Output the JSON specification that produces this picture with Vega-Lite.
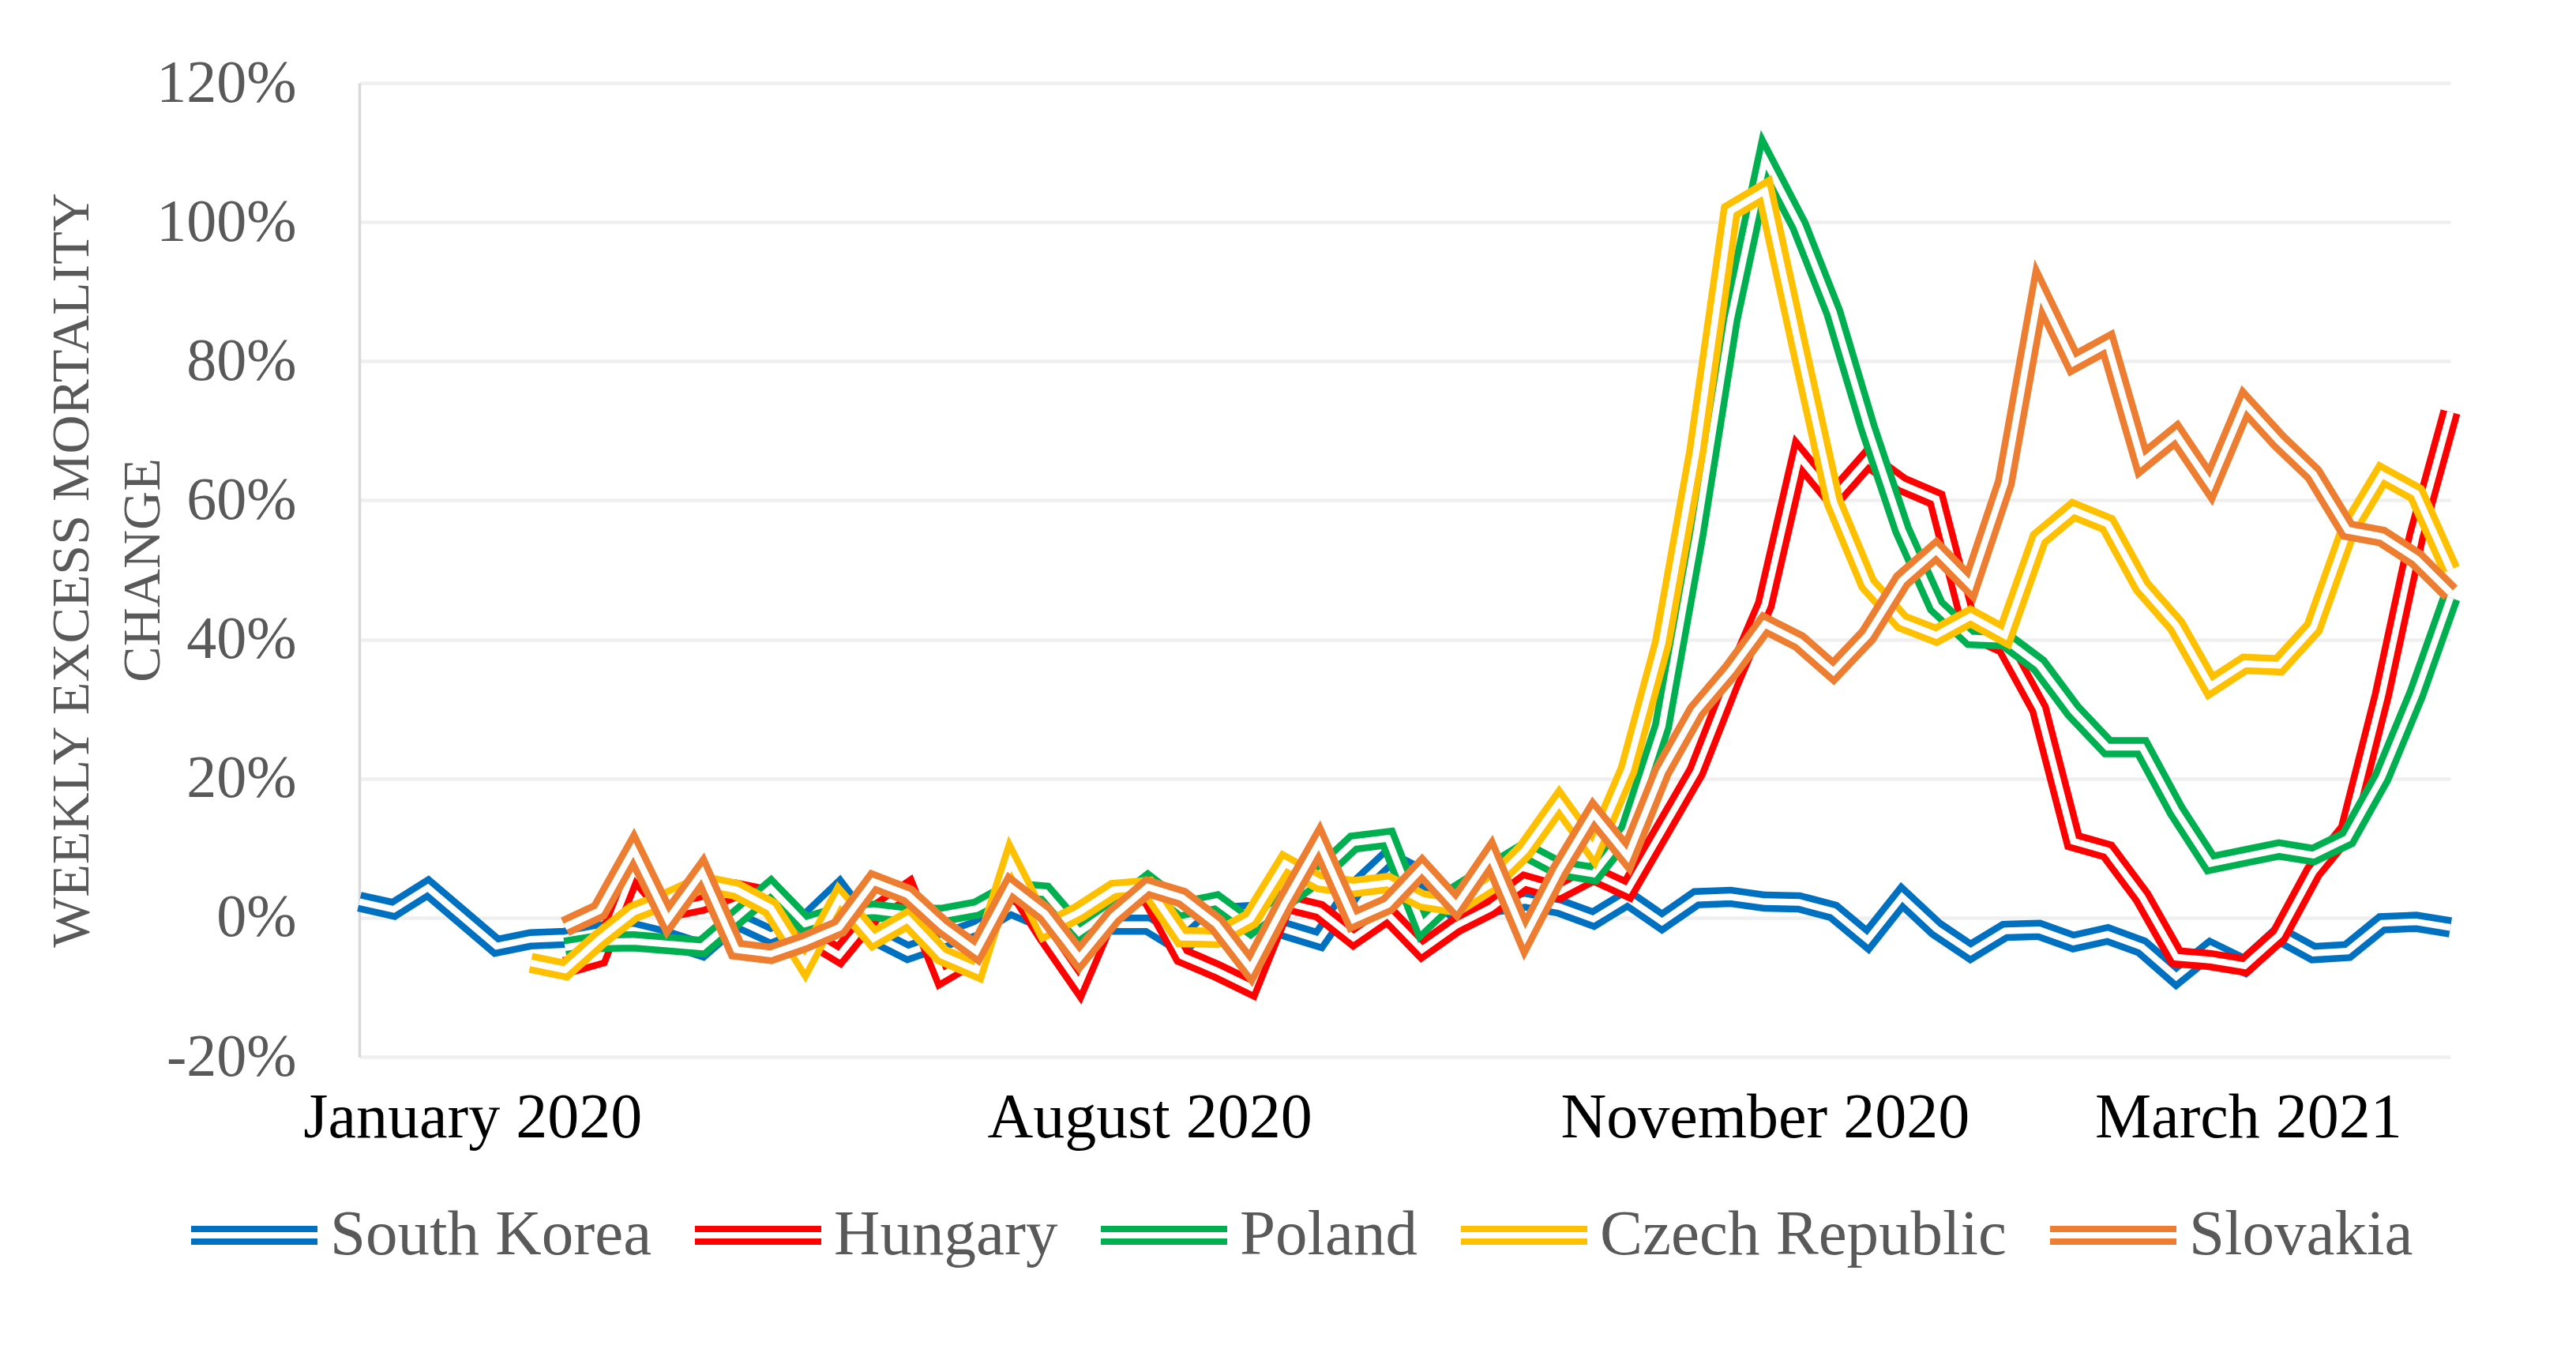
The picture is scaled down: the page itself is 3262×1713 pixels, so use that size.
{
  "$schema": "https://vega.github.io/schema/vega-lite/v6.json",
  "autosize": {"type": "none"},
  "width": 2648,
  "height": 1233,
  "padding": {"left": 455, "top": 105, "right": 159, "bottom": 375},
  "background": "white",
  "config": {
    "view": {"stroke": null},
    "font": "Liberation Serif"
  },
  "datasets": {
    "d": [
      {"w":0,"c":"South Korea","v":2.3},{"w":1,"c":"South Korea","v":1.2},{"w":2,"c":"South Korea","v":4.3},{"w":3,"c":"South Korea","v":0.1},{"w":4,"c":"South Korea","v":-4.1},{"w":5,"c":"South Korea","v":-3.1},{"w":6,"c":"South Korea","v":-2.9},{"w":7,"c":"South Korea","v":-2.0},{"w":8,"c":"South Korea","v":-1.8},{"w":9,"c":"South Korea","v":-3.0},{"w":10,"c":"South Korea","v":-4.6},{"w":11,"c":"South Korea","v":-0.3},{"w":12,"c":"South Korea","v":-2.6},{"w":13,"c":"South Korea","v":-0.7},{"w":14,"c":"South Korea","v":4.0},{"w":15,"c":"South Korea","v":-2.5},{"w":16,"c":"South Korea","v":-5.0},{"w":17,"c":"South Korea","v":-3.3},{"w":18,"c":"South Korea","v":-1.5},{"w":19,"c":"South Korea","v":1.5},{"w":20,"c":"South Korea","v":-0.6},{"w":21,"c":"South Korea","v":-0.5},{"w":22,"c":"South Korea","v":-1.0},{"w":23,"c":"South Korea","v":-1.0},{"w":24,"c":"South Korea","v":-4.0},{"w":25,"c":"South Korea","v":0.5},{"w":26,"c":"South Korea","v":0.8},{"w":27,"c":"South Korea","v":-1.7},{"w":28,"c":"South Korea","v":-3.2},{"w":29,"c":"South Korea","v":3.9},{"w":30,"c":"South Korea","v":8.5},{"w":31,"c":"South Korea","v":6.0},{"w":32,"c":"South Korea","v":0.7},{"w":33,"c":"South Korea","v":1.6},{"w":34,"c":"South Korea","v":2.5},{"w":35,"c":"South Korea","v":1.6},{"w":36,"c":"South Korea","v":-0.2},{"w":37,"c":"South Korea","v":2.8},{"w":38,"c":"South Korea","v":-0.6},{"w":39,"c":"South Korea","v":2.8},{"w":40,"c":"South Korea","v":3.0},{"w":41,"c":"South Korea","v":2.3},{"w":42,"c":"South Korea","v":2.2},{"w":43,"c":"South Korea","v":0.9},{"w":44,"c":"South Korea","v":-3.2},{"w":45,"c":"South Korea","v":3.0},{"w":46,"c":"South Korea","v":-1.6},{"w":47,"c":"South Korea","v":-4.9},{"w":48,"c":"South Korea","v":-1.9},{"w":49,"c":"South Korea","v":-1.75},{"w":50,"c":"South Korea","v":-3.5},{"w":51,"c":"South Korea","v":-2.4},{"w":52,"c":"South Korea","v":-4.2},{"w":53,"c":"South Korea","v":-8.5},{"w":54,"c":"South Korea","v":-4.5},{"w":55,"c":"South Korea","v":-6.9},{"w":56,"c":"South Korea","v":-2.4},{"w":57,"c":"South Korea","v":-5.1},{"w":58,"c":"South Korea","v":-4.8},{"w":59,"c":"South Korea","v":-0.8},{"w":60,"c":"South Korea","v":-0.6},{"w":61,"c":"South Korea","v":-1.4},
      {"w":6,"c":"Hungary","v":-7.1},{"w":7,"c":"Hungary","v":-5.7},{"w":8,"c":"Hungary","v":6.8},{"w":9,"c":"Hungary","v":1.0},{"w":10,"c":"Hungary","v":2.0},{"w":11,"c":"Hungary","v":4.0},{"w":12,"c":"Hungary","v":3.0},{"w":13,"c":"Hungary","v":-2.4},{"w":14,"c":"Hungary","v":-5.4},{"w":15,"c":"Hungary","v":0.6},{"w":16,"c":"Hungary","v":4.0},{"w":17,"c":"Hungary","v":-8.3},{"w":18,"c":"Hungary","v":-5.4},{"w":19,"c":"Hungary","v":5.4},{"w":20,"c":"Hungary","v":-2.4},{"w":21,"c":"Hungary","v":-9.5},{"w":22,"c":"Hungary","v":2.0},{"w":23,"c":"Hungary","v":3.5},{"w":24,"c":"Hungary","v":-5.5},{"w":25,"c":"Hungary","v":-7.6},{"w":26,"c":"Hungary","v":-10.0},{"w":27,"c":"Hungary","v":2.2},{"w":28,"c":"Hungary","v":1.0},{"w":29,"c":"Hungary","v":-2.9},{"w":30,"c":"Hungary","v":0.5},{"w":31,"c":"Hungary","v":-4.6},{"w":32,"c":"Hungary","v":-1.1},{"w":33,"c":"Hungary","v":1.4},{"w":34,"c":"Hungary","v":5.1},{"w":35,"c":"Hungary","v":3.7},{"w":36,"c":"Hungary","v":6.3},{"w":37,"c":"Hungary","v":4.0},{"w":38,"c":"Hungary","v":12.5},{"w":39,"c":"Hungary","v":21.0},{"w":40,"c":"Hungary","v":33.5},{"w":41,"c":"Hungary","v":45.0},{"w":42,"c":"Hungary","v":66.3},{"w":43,"c":"Hungary","v":60.3},{"w":44,"c":"Hungary","v":65.9},{"w":45,"c":"Hungary","v":62.3},{"w":46,"c":"Hungary","v":60.2},{"w":47,"c":"Hungary","v":41.2},{"w":48,"c":"Hungary","v":39.0},{"w":49,"c":"Hungary","v":30.0},{"w":50,"c":"Hungary","v":11.0},{"w":51,"c":"Hungary","v":9.6},{"w":52,"c":"Hungary","v":3.0},{"w":53,"c":"Hungary","v":-5.7},{"w":54,"c":"Hungary","v":-6.1},{"w":55,"c":"Hungary","v":-6.9},{"w":56,"c":"Hungary","v":-2.5},{"w":57,"c":"Hungary","v":6.6},{"w":58,"c":"Hungary","v":12.6},{"w":59,"c":"Hungary","v":32.0},{"w":60,"c":"Hungary","v":54.8},{"w":61,"c":"Hungary","v":72.7},
      {"w":6,"c":"Poland","v":-4.3},{"w":7,"c":"Poland","v":-3.5},{"w":8,"c":"Poland","v":-3.4},{"w":9,"c":"Poland","v":-3.8},{"w":10,"c":"Poland","v":-4.2},{"w":11,"c":"Poland","v":0.0},{"w":12,"c":"Poland","v":4.2},{"w":13,"c":"Poland","v":-0.9},{"w":14,"c":"Poland","v":0.6},{"w":15,"c":"Poland","v":1.0},{"w":16,"c":"Poland","v":0.4},{"w":17,"c":"Poland","v":0.4},{"w":18,"c":"Poland","v":1.3},{"w":19,"c":"Poland","v":4.0},{"w":20,"c":"Poland","v":3.6},{"w":21,"c":"Poland","v":-2.1},{"w":22,"c":"Poland","v":1.3},{"w":23,"c":"Poland","v":5.1},{"w":24,"c":"Poland","v":1.3},{"w":25,"c":"Poland","v":2.3},{"w":26,"c":"Poland","v":-1.3},{"w":27,"c":"Poland","v":2.5},{"w":28,"c":"Poland","v":6.2},{"w":29,"c":"Poland","v":10.8},{"w":30,"c":"Poland","v":11.4},{"w":31,"c":"Poland","v":-1.1},{"w":32,"c":"Poland","v":3.6},{"w":33,"c":"Poland","v":6.7},{"w":34,"c":"Poland","v":9.7},{"w":35,"c":"Poland","v":7.1},{"w":36,"c":"Poland","v":6.3},{"w":37,"c":"Poland","v":12.5},{"w":38,"c":"Poland","v":27.5},{"w":39,"c":"Poland","v":55.0},{"w":40,"c":"Poland","v":86.0},{"w":41,"c":"Poland","v":109.0},{"w":42,"c":"Poland","v":99.5},{"w":43,"c":"Poland","v":87.0},{"w":44,"c":"Poland","v":70.5},{"w":45,"c":"Poland","v":55.8},{"w":46,"c":"Poland","v":44.8},{"w":47,"c":"Poland","v":40.2},{"w":48,"c":"Poland","v":40.0},{"w":49,"c":"Poland","v":36.3},{"w":50,"c":"Poland","v":29.7},{"w":51,"c":"Poland","v":24.5},{"w":52,"c":"Poland","v":24.5},{"w":53,"c":"Poland","v":15.4},{"w":54,"c":"Poland","v":7.8},{"w":55,"c":"Poland","v":8.8},{"w":56,"c":"Poland","v":9.8},{"w":57,"c":"Poland","v":9.0},{"w":58,"c":"Poland","v":11.4},{"w":59,"c":"Poland","v":20.2},{"w":60,"c":"Poland","v":32.1},{"w":61,"c":"Poland","v":46.0},
      {"w":5,"c":"Czech Republic","v":-6.5},{"w":6,"c":"Czech Republic","v":-7.5},{"w":7,"c":"Czech Republic","v":-3.1},{"w":8,"c":"Czech Republic","v":0.8},{"w":9,"c":"Czech Republic","v":2.7},{"w":10,"c":"Czech Republic","v":5.0},{"w":11,"c":"Czech Republic","v":4.0},{"w":12,"c":"Czech Republic","v":1.4},{"w":13,"c":"Czech Republic","v":-6.5},{"w":14,"c":"Czech Republic","v":2.7},{"w":15,"c":"Czech Republic","v":-3.0},{"w":16,"c":"Czech Republic","v":-0.2},{"w":17,"c":"Czech Republic","v":-5.4},{"w":18,"c":"Czech Republic","v":-7.5},{"w":19,"c":"Czech Republic","v":8.0},{"w":20,"c":"Czech Republic","v":-1.7},{"w":21,"c":"Czech Republic","v":0.8},{"w":22,"c":"Czech Republic","v":4.0},{"w":23,"c":"Czech Republic","v":4.4},{"w":24,"c":"Czech Republic","v":-2.8},{"w":25,"c":"Czech Republic","v":-2.9},{"w":26,"c":"Czech Republic","v":-0.2},{"w":27,"c":"Czech Republic","v":7.8},{"w":28,"c":"Czech Republic","v":5.1},{"w":29,"c":"Czech Republic","v":4.4},{"w":30,"c":"Czech Republic","v":5.0},{"w":31,"c":"Czech Republic","v":2.5},{"w":32,"c":"Czech Republic","v":1.7},{"w":33,"c":"Czech Republic","v":4.8},{"w":34,"c":"Czech Republic","v":9.7},{"w":35,"c":"Czech Republic","v":16.6},{"w":36,"c":"Czech Republic","v":9.8},{"w":37,"c":"Czech Republic","v":21.3},{"w":38,"c":"Czech Republic","v":39.5},{"w":39,"c":"Czech Republic","v":67.0},{"w":40,"c":"Czech Republic","v":101.6},{"w":41,"c":"Czech Republic","v":104.5},{"w":42,"c":"Czech Republic","v":82.0},{"w":43,"c":"Czech Republic","v":59.8},{"w":44,"c":"Czech Republic","v":48.0},{"w":45,"c":"Czech Republic","v":42.5},{"w":46,"c":"Czech Republic","v":40.6},{"w":47,"c":"Czech Republic","v":43.3},{"w":48,"c":"Czech Republic","v":40.6},{"w":49,"c":"Czech Republic","v":54.5},{"w":50,"c":"Czech Republic","v":58.6},{"w":51,"c":"Czech Republic","v":56.6},{"w":52,"c":"Czech Republic","v":47.6},{"w":53,"c":"Czech Republic","v":42.0},{"w":54,"c":"Czech Republic","v":33.3},{"w":55,"c":"Czech Republic","v":36.5},{"w":56,"c":"Czech Republic","v":36.3},{"w":57,"c":"Czech Republic","v":41.7},{"w":58,"c":"Czech Republic","v":55.5},{"w":59,"c":"Czech Republic","v":63.7},{"w":60,"c":"Czech Republic","v":61.0},{"w":61,"c":"Czech Republic","v":50.0},
      {"w":6,"c":"Slovakia","v":-1.3},{"w":7,"c":"Slovakia","v":1.0},{"w":8,"c":"Slovakia","v":9.8},{"w":9,"c":"Slovakia","v":-0.3},{"w":10,"c":"Slovakia","v":6.5},{"w":11,"c":"Slovakia","v":-4.6},{"w":12,"c":"Slovakia","v":-5.2},{"w":13,"c":"Slovakia","v":-3.5},{"w":14,"c":"Slovakia","v":-1.4},{"w":15,"c":"Slovakia","v":5.2},{"w":16,"c":"Slovakia","v":3.3},{"w":17,"c":"Slovakia","v":-1.2},{"w":18,"c":"Slovakia","v":-4.8},{"w":19,"c":"Slovakia","v":4.4},{"w":20,"c":"Slovakia","v":0.6},{"w":21,"c":"Slovakia","v":-5.8},{"w":22,"c":"Slovakia","v":0.2},{"w":23,"c":"Slovakia","v":4.4},{"w":24,"c":"Slovakia","v":2.9},{"w":25,"c":"Slovakia","v":-0.9},{"w":26,"c":"Slovakia","v":-7.3},{"w":27,"c":"Slovakia","v":2.1},{"w":28,"c":"Slovakia","v":10.8},{"w":29,"c":"Slovakia","v":-0.3},{"w":30,"c":"Slovakia","v":1.9},{"w":31,"c":"Slovakia","v":7.1},{"w":32,"c":"Slovakia","v":1.7},{"w":33,"c":"Slovakia","v":8.9},{"w":34,"c":"Slovakia","v":-2.8},{"w":35,"c":"Slovakia","v":6.7},{"w":36,"c":"Slovakia","v":14.9},{"w":37,"c":"Slovakia","v":8.8},{"w":38,"c":"Slovakia","v":21.0},{"w":39,"c":"Slovakia","v":29.7},{"w":40,"c":"Slovakia","v":35.5},{"w":41,"c":"Slovakia","v":42.2},{"w":42,"c":"Slovakia","v":39.7},{"w":43,"c":"Slovakia","v":35.4},{"w":44,"c":"Slovakia","v":40.6},{"w":45,"c":"Slovakia","v":48.5},{"w":46,"c":"Slovakia","v":52.8},{"w":47,"c":"Slovakia","v":47.8},{"w":48,"c":"Slovakia","v":62.5},{"w":49,"c":"Slovakia","v":90.0},{"w":50,"c":"Slovakia","v":79.8},{"w":51,"c":"Slovakia","v":82.5},{"w":52,"c":"Slovakia","v":65.5},{"w":53,"c":"Slovakia","v":69.5},{"w":54,"c":"Slovakia","v":62.2},{"w":55,"c":"Slovakia","v":73.9},{"w":56,"c":"Slovakia","v":68.5},{"w":57,"c":"Slovakia","v":63.8},{"w":58,"c":"Slovakia","v":55.7},{"w":59,"c":"Slovakia","v":54.8},{"w":60,"c":"Slovakia","v":51.6},{"w":61,"c":"Slovakia","v":46.7}
    ]
  },
  "data": {"name": "d"},
  "encoding": {
    "x": {
      "field": "w", "type": "quantitative",
      "scale": {"domain": [0, 61], "nice": false, "zero": false},
      "axis": {
        "title": null,
        "values": [3.3, 23.05, 41, 55.1],
        "labelExpr": "datum.value < 10 ? 'January 2020' : datum.value < 30 ? 'August 2020' : datum.value < 50 ? 'November 2020' : 'March 2021'",
        "grid": false, "ticks": false, "domain": false,
        "labelFont": "Liberation Serif", "labelFontSize": 80, "labelColor": "#000000",
        "labelPadding": 38, "labelOverlap": false, "labelFlush": false, "labelBound": false, "labelLimit": 2000
      }
    },
    "y": {
      "field": "v", "type": "quantitative",
      "scale": {"domain": [-20, 120], "nice": false, "zero": false},
      "axis": {
        "title": ["WEEKLY EXCESS MORTALITY", "CHANGE"],
        "titleFont": "Liberation Serif", "titleFontSize": 68, "titleFontWeight": "normal",
        "titleColor": "#595959", "titleLineHeight": 90, "titlePadding": 40,
        "values": [-20, 0, 20, 40, 60, 80, 100, 120],
        "labelExpr": "datum.value + '%'",
        "grid": true, "gridColor": "#efefef", "gridWidth": 4.5,
        "ticks": false, "domain": true, "domainColor": "#d9d9d9", "domainWidth": 3.5,
        "labelFont": "Liberation Serif", "labelFontSize": 76, "labelColor": "#595959",
        "labelPadding": 80
      }
    }
  },
  "layer": [
    {"transform": [{"filter": "datum.c === 'South Korea'"}],
     "mark": {"type": "line", "strokeWidth": 25.5, "strokeJoin": "miter", "strokeCap": "butt"},
     "encoding": {"color": {"field": "c", "type": "nominal",
       "scale": {"domain": ["South Korea", "Hungary", "Poland", "Czech Republic", "Slovakia"], "range": ["#0070C0", "#FF0000", "#00B050", "#FFC000", "#ED7D31"]},
       "legend": {"orient": "none", "legendX": -217, "legendY": 1375, "direction": "horizontal", "columns": 5, "title": null,
         "symbolType": "M-1,-0.1H1M-1,0.1H1", "symbolSize": 25600, "symbolStrokeWidth": 8,
         "labelFont": "Liberation Serif", "labelFontSize": 81, "labelColor": "#595959", "labelOffset": 12, "labelLimit": 1000,
         "columnPadding": 38, "padding": 0}}}},
    {"transform": [{"filter": "datum.c === 'South Korea'"}],
     "mark": {"type": "line", "strokeWidth": 8.5, "color": "white", "strokeJoin": "miter", "strokeCap": "butt"}},
    {"transform": [{"filter": "datum.c === 'Hungary'"}],
     "mark": {"type": "line", "strokeWidth": 25.5, "strokeJoin": "miter", "strokeCap": "butt"},
     "encoding": {"color": {"field": "c", "type": "nominal"}}},
    {"transform": [{"filter": "datum.c === 'Hungary'"}],
     "mark": {"type": "line", "strokeWidth": 8.5, "color": "white", "strokeJoin": "miter", "strokeCap": "butt"}},
    {"transform": [{"filter": "datum.c === 'Poland'"}],
     "mark": {"type": "line", "strokeWidth": 25.5, "strokeJoin": "miter", "strokeCap": "butt"},
     "encoding": {"color": {"field": "c", "type": "nominal"}}},
    {"transform": [{"filter": "datum.c === 'Poland'"}],
     "mark": {"type": "line", "strokeWidth": 8.5, "color": "white", "strokeJoin": "miter", "strokeCap": "butt"}},
    {"transform": [{"filter": "datum.c === 'Czech Republic'"}],
     "mark": {"type": "line", "strokeWidth": 25.5, "strokeJoin": "miter", "strokeCap": "butt"},
     "encoding": {"color": {"field": "c", "type": "nominal"}}},
    {"transform": [{"filter": "datum.c === 'Czech Republic'"}],
     "mark": {"type": "line", "strokeWidth": 8.5, "color": "white", "strokeJoin": "miter", "strokeCap": "butt"}},
    {"transform": [{"filter": "datum.c === 'Slovakia'"}],
     "mark": {"type": "line", "strokeWidth": 25.5, "strokeJoin": "miter", "strokeCap": "butt"},
     "encoding": {"color": {"field": "c", "type": "nominal"}}},
    {"transform": [{"filter": "datum.c === 'Slovakia'"}],
     "mark": {"type": "line", "strokeWidth": 8.5, "color": "white", "strokeJoin": "miter", "strokeCap": "butt"}}
  ]
}
